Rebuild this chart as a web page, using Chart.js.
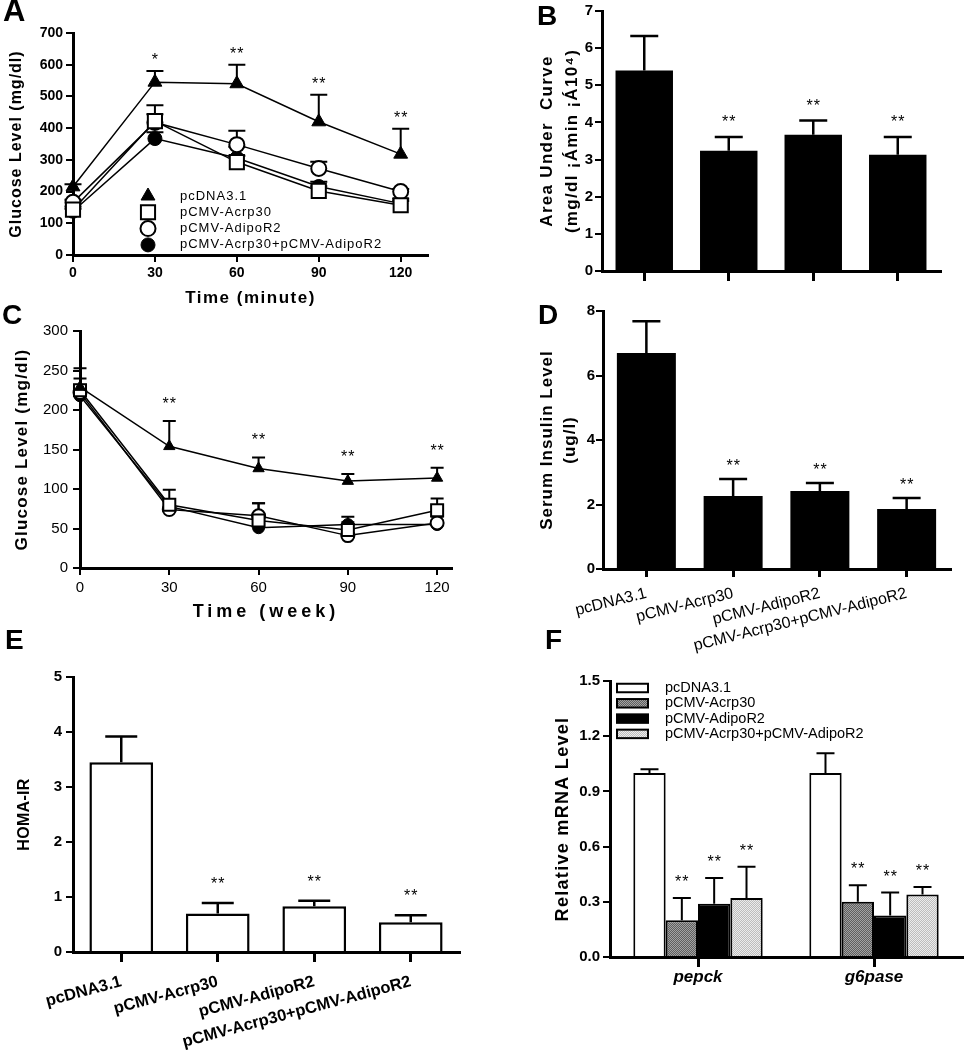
<!DOCTYPE html>
<html>
<head>
<meta charset="utf-8">
<script src="https://cdn.jsdelivr.net/npm/chart.js@4.4.1/dist/chart.umd.min.js"></script>
<style>
  html, body { margin: 0; padding: 0; background: #fff; }
  #fig { position: relative; width: 965px; height: 1050px; overflow: hidden; }
  #fig canvas { position: absolute; }
  .tag { position: absolute; font: bold 28px Arial, "Liberation Sans", sans-serif; line-height: 28px; color: #000; }
</style>
</head>
<body>
<div id="fig">
  <canvas id="panelA"></canvas>
  <canvas id="panelB"></canvas>
  <canvas id="panelC"></canvas>
  <canvas id="panelD"></canvas>
  <canvas id="panelE"></canvas>
  <canvas id="panelF"></canvas>
  <div class="tag" style="left:3px;top:-3px;font-size:31px">A</div>
  <div class="tag" style="left:537px;top:2px">B</div>
  <div class="tag" style="left:2px;top:301px">C</div>
  <div class="tag" style="left:538px;top:301px">D</div>
  <div class="tag" style="left:5px;top:626px">E</div>
  <div class="tag" style="left:545px;top:626px">F</div>
</div>
<script>
// ---------- data ----------
var timePoints = [0, 30, 60, 90, 120];
var groups = ['pcDNA3.1', 'pCMV-Acrp30', 'pCMV-AdipoR2', 'pCMV-Acrp30+pCMV-AdipoR2'];
var genes = ['pepck', 'g6pase'];

// A: glucose level after load (mg/dl), + upper error
var minCtrl = [215, 545, 540, 420, 318];
var minCtrlErr = [8, 35, 60, 85, 80];
var minAcrp = [143, 422, 293, 202, 157];
var minAcrpErr = [10, 50, 20, 15, 20];
var minAdipo = [166, 418, 348, 273, 200];
var minAdipoErr = [8, 26, 44, 21, 8];
var minBoth = [138, 367, 306, 216, 162];
var minBothErr = [8, 20, 35, 15, 8];
var minSig = ['', '*', '**', '**', '**'];
var minTicksY = [0, 100, 200, 300, 400, 500, 600, 700];

// B: area under curve
var aucVals = [5.4, 3.24, 3.67, 3.13];
var aucErr = [0.93, 0.37, 0.38, 0.48];
var aucSig = ['', '**', '**', '**'];
var aucTicksY = [0, 1, 2, 3, 4, 5, 6, 7];

// C: glucose level by week (mg/dl)
var wkCtrl = [229, 154, 126, 110, 114];
var wkCtrlErr = [24, 32, 14, 9, 13];
var wkAcrp = [225, 80, 60, 48, 73];
var wkAcrpErr = [15, 19, 22, 10, 15];
var wkAdipo = [222, 74, 66, 41, 57];
var wkAdipoErr = [10, 12, 16, 8, 8];
var wkBoth = [218, 78, 51, 55, 55];
var wkBothErr = [8, 8, 6, 10, 5];
var wkSig = ['', '**', '**', '**', '**'];
var wkTicksY = [0, 50, 100, 150, 200, 250, 300];

// D: serum insulin (ug/l)
var insulinVals = [6.7, 2.26, 2.42, 1.86];
var insulinErr = [0.98, 0.53, 0.25, 0.34];
var insulinSig = ['', '**', '**', '**'];
var insulinTicksY = [0, 2, 4, 6, 8];

// E: HOMA-IR
var homaVals = [3.45, 0.70, 0.83, 0.54];
var homaErr = [0.47, 0.19, 0.10, 0.13];
var homaSig = ['', '**', '**', '**'];
var homaTicksY = [0, 1, 2, 3, 4, 5];

// F: relative mRNA level (pepck, g6pase)
var mrnaCtrl = [1.0, 1.0];
var mrnaCtrlErr = [0.02, 0.107];
var mrnaAcrp = [0.20, 0.30];
var mrnaAcrpErr = [0.12, 0.09];
var mrnaAdipo = [0.29, 0.225];
var mrnaAdipoErr = [0.14, 0.125];
var mrnaBoth = [0.32, 0.34];
var mrnaBothErr = [0.17, 0.04];
var mrnaSig = ['**', '**'];
var mrnaTicksY = [0, 0.3, 0.6, 0.9, 1.2, 1.5];

// ---------- setup ----------
var FONT = 'Arial, "Liberation Sans", sans-serif';
Chart.defaults.font.family = FONT;
Chart.defaults.color = '#000';
Chart.defaults.animation = false;
Chart.defaults.events = [];
Chart.defaults.plugins.legend.display = false;
Chart.defaults.plugins.tooltip.enabled = false;

function valueOf(d) { return (d !== null && typeof d === 'object') ? d.y : d; }

// upper error bars + significance stars
var errorBars = {
  id: 'errorBars',
  defaults: { cap: 20, width: 2, behind: false, gap: 8, starSize: 16 },
  beforeDatasetsDraw: function (chart, args, o) { if (o.behind) drawErrors(chart, o); },
  afterDatasetsDraw: function (chart, args, o) {
    if (!o.behind) drawErrors(chart, o);
    drawStars(chart, o);
  }
};
function drawErrors(chart, o) {
  var ctx = chart.ctx, ys = chart.scales.y;
  ctx.save();
  ctx.strokeStyle = '#000';
  ctx.lineWidth = o.width;
  chart.data.datasets.forEach(function (ds, i) {
    if (!ds.errors) return;
    chart.getDatasetMeta(i).data.forEach(function (el, j) {
      var v = valueOf(ds.data[j]);
      var top = ys.getPixelForValue(v + ds.errors[j]);
      ctx.beginPath();
      ctx.moveTo(el.x, ys.getPixelForValue(v));
      ctx.lineTo(el.x, top);
      ctx.moveTo(el.x - o.cap / 2, top);
      ctx.lineTo(el.x + o.cap / 2, top);
      ctx.stroke();
    });
  });
  ctx.restore();
}
function drawStars(chart, o) {
  var ctx = chart.ctx, ys = chart.scales.y;
  ctx.save();
  ctx.fillStyle = '#000';
  ctx.font = o.starSize + 'px ' + FONT;
  ctx.letterSpacing = '1px';
  ctx.textAlign = 'center';
  ctx.textBaseline = 'alphabetic';
  chart.data.datasets.forEach(function (ds, i) {
    if (!ds.sig) return;
    chart.getDatasetMeta(i).data.forEach(function (el, j) {
      if (!ds.sig[j]) return;
      var v = valueOf(ds.data[j]) + (ds.errors ? ds.errors[j] : 0);
      ctx.fillText(ds.sig[j], el.x + 0.5, ys.getPixelForValue(v) - o.gap);
    });
  });
  ctx.restore();
}

// legend drawn inside the plot area
var insideLegend = {
  id: 'insideLegend',
  defaults: { display: false, kind: 'point', x: 0, y: 0, dy: 16, textX: 0, w: 30, h: 9, size: 13, spacing: 0 },
  afterDraw: function (chart, args, o) {
    if (!o.display) return;
    var ctx = chart.ctx;
    ctx.save();
    ctx.font = o.size + 'px ' + FONT;
    ctx.textBaseline = 'middle';
    ctx.textAlign = 'left';
    chart.data.datasets.forEach(function (ds, i) {
      var y = o.y + i * o.dy;
      if (o.kind === 'box') {
        ctx.fillStyle = ds.backgroundColor;
        ctx.fillRect(o.x, y - o.h / 2, o.w, o.h);
        ctx.strokeStyle = '#000';
        ctx.lineWidth = 2;
        ctx.strokeRect(o.x, y - o.h / 2, o.w, o.h);
      } else {
        ctx.fillStyle = ds.pointBackgroundColor;
        ctx.strokeStyle = ds.pointBorderColor;
        ctx.lineWidth = ds.pointBorderWidth;
        Chart.helpers.drawPoint(ctx, { pointStyle: ds.pointStyle, radius: ds.pointRadius, borderWidth: ds.pointBorderWidth, rotation: 0 }, o.x, y);
      }
      ctx.fillStyle = '#000';
      ctx.letterSpacing = o.spacing + 'px';
      ctx.fillText(ds.label, o.textX, y);
      ctx.letterSpacing = '0px';
    });
    ctx.restore();
  }
};

// wider letter spacing for axis titles
var titleSpacing = {
  id: 'titleSpacing',
  defaults: { x: 0, y: 0 },
  afterUpdate: function (chart, args, o) {
    ['x', 'y'].forEach(function (id) {
      var s = chart.scales[id];
      if (!s || s._spaced || !o[id]) return;
      var base = s.drawTitle;
      var px = o[id];
      s.drawTitle = function () {
        this.ctx.save();
        this.ctx.letterSpacing = px + 'px';
        base.call(this);
        this.ctx.restore();
      };
      s._spaced = true;
    });
  }
};
Chart.register(errorBars, insideLegend, titleSpacing);

function frame(len, width, z) {
  return {
    border: { display: true, color: '#000', width: 3, z: z || 0 },
    grid: { display: true, drawOnChartArea: false, drawTicks: true, tickLength: len, tickWidth: width, tickColor: '#000', color: '#000', lineWidth: width, offset: false }
  };
}
function fixedTicks(vals) {
  return function (s) { s.ticks = vals.map(function (v) { return { value: v }; }); };
}
function boldFont(size) { return { size: size, weight: 'bold' }; }

var markerStyles = [
  { pointStyle: 'triangle', pointBackgroundColor: '#000', pointBorderColor: '#000', pointBorderWidth: 1 },
  { pointStyle: 'rect', pointBackgroundColor: '#fff', pointBorderColor: '#000', pointBorderWidth: 2 },
  { pointStyle: 'circle', pointBackgroundColor: '#fff', pointBorderColor: '#000', pointBorderWidth: 2 },
  { pointStyle: 'circle', pointBackgroundColor: '#000', pointBorderColor: '#000', pointBorderWidth: 1 }
];
function lineSeries(idx, vals, errs, sig, radius) {
  var ds = {
    label: groups[idx],
    data: timePoints.map(function (t, i) { return { x: t, y: vals[i] }; }),
    errors: errs,
    sig: sig,
    borderColor: '#000',
    borderWidth: 1.5,
    tension: 0,
    clip: false,
    pointRadius: radius
  };
  var st = markerStyles[idx];
  for (var k in st) ds[k] = st[k];
  return ds;
}

function dither(c1, c2) {
  var pc = document.createElement('canvas');
  pc.width = 2; pc.height = 2;
  var g = pc.getContext('2d');
  g.fillStyle = c1; g.fillRect(0, 0, 2, 2);
  g.fillStyle = c2; g.fillRect(0, 0, 1, 1); g.fillRect(1, 1, 1, 1);
  return g.createPattern(pc, 'repeat');
}

// place a chart so its plot area lands on the given page rectangle
function makePanel(id, box, area, config) {
  var cv = document.getElementById(id);
  cv.width = box.w; cv.height = box.h;
  cv.style.left = box.x + 'px'; cv.style.top = box.y + 'px';
  var o = config.options;
  o.responsive = false;
  o.devicePixelRatio = 1;
  o.layout = { padding: { left: 0, top: area.t - box.y, right: box.x + box.w - area.r, bottom: 0 } };
  o.scales.x.afterFit = function (s) { s.height = box.y + box.h - area.b; };
  o.scales.y.afterFit = function (s) { s.width = area.l - box.x; };
  return new Chart(cv, config);
}

// ---------- A ----------
makePanel('panelA', { x: 0, y: 0, w: 480, h: 310 }, { l: 73, t: 33, r: 428, b: 255 }, {
  type: 'line',
  data: { datasets: [
    lineSeries(0, minCtrl, minCtrlErr, minSig, 8),
    lineSeries(1, minAcrp, minAcrpErr, null, 10),
    lineSeries(2, minAdipo, minAdipoErr, null, 7.5),
    lineSeries(3, minBoth, minBothErr, null, 7)
  ] },
  options: {
    scales: {
      x: Object.assign({ type: 'linear', min: 0, max: 130, afterBuildTicks: fixedTicks(timePoints),
        ticks: { font: boldFont(14), padding: 3 },
        title: { display: true, text: 'Time (minute)', font: boldFont(17), padding: { top: 0, bottom: 1.8 } } }, frame(7, 2)),
      y: Object.assign({ type: 'linear', min: 0, max: 700, afterBuildTicks: fixedTicks(minTicksY),
        ticks: { font: boldFont(14), padding: 3 },
        title: { display: true, text: 'Glucose Level (mg/dl)', font: boldFont(16), padding: { top: 7.4, bottom: 0 } } }, frame(7, 2))
    },
    plugins: {
      errorBars: { cap: 17, width: 2, behind: true, gap: 6, starSize: 16 },
      insideLegend: { display: true, kind: 'point', x: 148, y: 196, dy: 16.3, textX: 180, size: 13, spacing: 1 },
      titleSpacing: { x: 1.5, y: 1 }
    }
  }
});

// ---------- B ----------
makePanel('panelB', { x: 480, y: 0, w: 485, h: 300 }, { l: 602, t: 7, r: 940, b: 271 }, {
  type: 'bar',
  data: { labels: groups, datasets: [{ data: aucVals, errors: aucErr, sig: aucSig, backgroundColor: '#000', borderWidth: 0, barPercentage: 0.68, categoryPercentage: 1 }] },
  options: {
    scales: {
      x: Object.assign({ ticks: { display: false } }, frame(10, 3, 1)),
      y: Object.assign({ min: 0, max: 7, afterBuildTicks: fixedTicks(aucTicksY),
        ticks: { font: boldFont(15), padding: 2 },
        title: { display: true, text: ['Area Under  Curve', '(mg/dl \u00A1\u00C1min \u00A1\u00C110\u2074)'], font: { size: 17, weight: 'bold', lineHeight: 1.47 }, padding: { top: 54.5, bottom: 0 } } }, frame(7, 2, 1))
    },
    plugins: { errorBars: { cap: 28, width: 2.5, gap: 10, starSize: 16 }, titleSpacing: { y: 1.3 } }
  }
});

// ---------- C ----------
makePanel('panelC', { x: 0, y: 300, w: 480, h: 330 }, { l: 80, t: 331, r: 452, b: 568 }, {
  type: 'line',
  data: { datasets: [
    lineSeries(0, wkCtrl, wkCtrlErr, wkSig, 6.5),
    lineSeries(1, wkAcrp, wkAcrpErr, null, 8.5),
    lineSeries(2, wkAdipo, wkAdipoErr, null, 6.5),
    lineSeries(3, wkBoth, wkBothErr, null, 6)
  ] },
  options: {
    scales: {
      x: Object.assign({ type: 'linear', min: 0, max: 125, afterBuildTicks: fixedTicks(timePoints),
        ticks: { font: { size: 15 }, padding: 4 },
        title: { display: true, text: 'Time (week)', font: boldFont(18), padding: { top: 0, bottom: 7.2 } } }, frame(7, 2)),
      y: Object.assign({ type: 'linear', min: 0, max: 300, afterBuildTicks: fixedTicks(wkTicksY),
        ticks: { font: { size: 15 }, padding: 5 },
        title: { display: true, text: 'Glucose Level (mg/dl)', font: boldFont(17), padding: { top: 11.8, bottom: 0 } } }, frame(7, 2))
    },
    plugins: { errorBars: { cap: 13, width: 2, behind: true, gap: 12, starSize: 16 }, titleSpacing: { x: 4, y: 1.2 } }
  }
});

// ---------- D ----------
makePanel('panelD', { x: 480, y: 300, w: 485, h: 360 }, { l: 603, t: 311, r: 950, b: 569 }, {
  type: 'bar',
  data: { labels: groups, datasets: [{ data: insulinVals, errors: insulinErr, sig: insulinSig, backgroundColor: '#000', borderWidth: 0, barPercentage: 0.68, categoryPercentage: 1 }] },
  options: {
    scales: {
      x: Object.assign({ ticks: { font: { size: 16 }, minRotation: 14, maxRotation: 14, autoSkip: false, padding: 7 } }, frame(8, 3, 1)),
      y: Object.assign({ min: 0, max: 8, afterBuildTicks: fixedTicks(insulinTicksY),
        ticks: { font: boldFont(15), padding: 1 },
        title: { display: true, text: ['Serum Insulin Level', '(ug/l)'], font: { size: 17, weight: 'bold', lineHeight: 1.35 }, padding: { top: 55.5, bottom: 0 } } }, frame(7, 2, 1))
    },
    plugins: { errorBars: { cap: 28, width: 2.5, gap: 8, starSize: 16 }, titleSpacing: { y: 1 } }
  }
});

// ---------- E ----------
makePanel('panelE', { x: 0, y: 620, w: 480, h: 430 }, { l: 73, t: 677, r: 459, b: 952 }, {
  type: 'bar',
  data: { labels: groups, datasets: [{ data: homaVals, errors: homaErr, sig: homaSig, backgroundColor: '#fff', borderColor: '#000', borderWidth: 2.5, barPercentage: 0.66, categoryPercentage: 1 }] },
  options: {
    scales: {
      x: Object.assign({ ticks: { font: boldFont(16.5), minRotation: 15, maxRotation: 15, autoSkip: false, padding: 10 } }, frame(10, 3, 1)),
      y: Object.assign({ min: 0, max: 5, afterBuildTicks: fixedTicks(homaTicksY),
        ticks: { font: boldFont(15), padding: 4 },
        title: { display: true, text: 'HOMA-IR', font: boldFont(16), padding: { top: 15.4, bottom: 0 } } }, frame(7, 2, 1))
    },
    plugins: { errorBars: { cap: 32, width: 2.5, gap: 14, starSize: 16 }, titleSpacing: { y: 0.3 } }
  }
});

// ---------- F ----------
var fillDark = dither('#5e5e5e', '#a2a2a2');
var fillLight = dither('#bdbdbd', '#ececec');
function mrnaSet(idx, vals, errs, sig, fill) {
  return { label: groups[idx], data: vals, errors: errs, sig: sig, backgroundColor: fill, borderColor: '#000', borderWidth: 2, barPercentage: 1, categoryPercentage: 0.735 };
}
makePanel('panelF', { x: 480, y: 640, w: 485, h: 410 }, { l: 610, t: 681, r: 962, b: 957 }, {
  type: 'bar',
  data: { labels: genes, datasets: [
    mrnaSet(0, mrnaCtrl, mrnaCtrlErr, null, '#fff'),
    mrnaSet(1, mrnaAcrp, mrnaAcrpErr, mrnaSig, fillDark),
    mrnaSet(2, mrnaAdipo, mrnaAdipoErr, mrnaSig, '#000'),
    mrnaSet(3, mrnaBoth, mrnaBothErr, mrnaSig, fillLight)
  ] },
  options: {
    scales: {
      x: Object.assign({ ticks: { font: { size: 17, weight: 'bold', style: 'italic' }, padding: 0 } }, frame(10, 3, 1)),
      y: Object.assign({ min: 0, max: 1.5, afterBuildTicks: fixedTicks(mrnaTicksY),
        ticks: { font: boldFont(15), padding: 3, callback: function (v) { return Number(v).toFixed(1); } },
        title: { display: true, text: 'Relative mRNA Level', font: boldFont(18), padding: { top: 72.2, bottom: 0 } } }, frame(7, 2, 1))
    },
    plugins: {
      errorBars: { cap: 18, width: 2, gap: 11, starSize: 16 },
      insideLegend: { display: true, kind: 'box', x: 137, y: 48, dy: 15.3, textX: 185, w: 31, h: 8.5, size: 14.5 },
      titleSpacing: { y: 1.3 }
    }
  }
});
</script>
</body>
</html>
